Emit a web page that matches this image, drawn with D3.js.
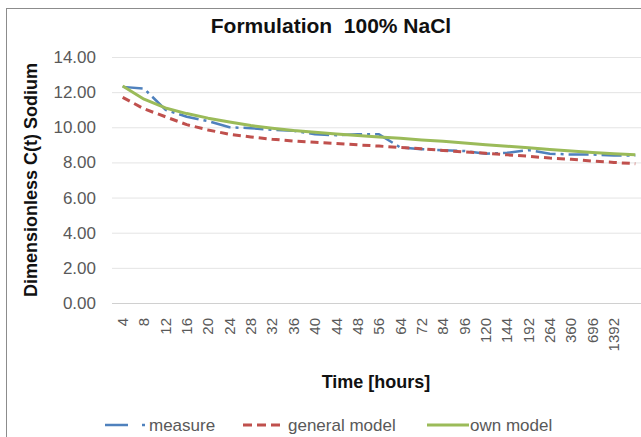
<!DOCTYPE html>
<html>
<head>
<meta charset="utf-8">
<script src="https://cdn.jsdelivr.net/npm/d3@7"></script>
<style>
  body { margin: 0; background: #fff; }
  svg { font-family: "Liberation Sans", Arial, sans-serif; }
</style>
</head>
<body>
<div id="chart"></div>
<script>
// category labels (last category has no label in the source)
const hours = ["4", "8", "12", "16", "20", "24", "28", "32", "36", "40", "44", "48",
  "56", "64", "72", "84", "96", "120", "144", "192", "264", "360", "696", "1392", ""];

const measure = [12.3, 12.2, 11.0, 10.6, 10.35, 10.0, 9.95, 9.85, 9.8, 9.6, 9.55, 9.6,
  9.6, 8.85, 8.75, 8.7, 8.65, 8.5, 8.55, 8.7, 8.5, 8.45, 8.45, 8.4, 8.4];

const generalModel = [11.7, 11.05, 10.6, 10.15, 9.85, 9.6, 9.45, 9.32, 9.22, 9.15, 9.08, 9.0,
  8.93, 8.85, 8.78, 8.68, 8.6, 8.52, 8.43, 8.35, 8.25, 8.18, 8.08, 8.0, 7.93];

const ownModel = [12.35, 11.6, 11.1, 10.78, 10.52, 10.3, 10.1, 9.95, 9.82, 9.72, 9.62, 9.53,
  9.45, 9.37, 9.28, 9.2, 9.1, 9.0, 8.92, 8.83, 8.74, 8.65, 8.57, 8.5, 8.44];

const yTicks = [0, 2, 4, 6, 8, 10, 12, 14];

const width = 641, height = 437;
const margin = { top: 57, right: -5, bottom: 134, left: 112 };

const svg = d3.select("#chart")
  .append("svg")
  .attr("width", width)
  .attr("height", height);

// outer frame
svg.append("rect")
  .attr("x", 6.5).attr("y", 8.5)
  .attr("width", 700).attr("height", 500)
  .attr("fill", "none")
  .attr("stroke", "#8c8c8c");

let xScale = d3.scaleBand()
  .domain(hours.map((d, i) => i))
  .range([margin.left, width - margin.right]);

let yScale = d3.scaleLinear()
  .domain([0, 14])
  .range([height - margin.bottom, margin.top]);

let cx = (i) => xScale(i) + xScale.bandwidth() / 2;

// gridlines
svg.append("g")
  .selectAll("line")
  .data(yTicks)
  .enter()
  .append("line")
    .attr("x1", margin.left)
    .attr("x2", width)
    .attr("y1", (d) => yScale(d) + 0.5)
    .attr("y2", (d) => yScale(d) + 0.5)
    .attr("stroke", (d) => d === 0 ? "#d0d0d0" : "#e4e4e4")
    .attr("stroke-width", 1);

// y tick labels
svg.append("g")
  .selectAll("text")
  .data(yTicks)
  .enter()
  .append("text")
    .attr("x", 96)
    .attr("y", (d) => yScale(d))
    .attr("dy", "0.35em")
    .attr("text-anchor", "end")
    .attr("font-size", "17px")
    .attr("fill", "#595959")
    .text((d) => d3.format(".2f")(d));

// x tick labels, rotated
svg.append("g")
  .selectAll("text")
  .data(hours)
  .enter()
  .append("text")
    .attr("transform", (d, i) => `translate(${cx(i)},318) rotate(-90)`)
    .attr("dy", "0.35em")
    .attr("text-anchor", "end")
    .attr("font-size", "15px")
    .attr("fill", "#595959")
    .text((d) => d);

// title and axis titles
svg.append("text")
  .attr("x", 331).attr("y", 33)
  .attr("text-anchor", "middle")
  .attr("font-size", "21px")
  .attr("font-weight", "bold")
  .attr("fill", "#111")
  .attr("xml:space", "preserve")
  .text("Formulation  100% NaCl");

svg.append("text")
  .attr("transform", "translate(31,180) rotate(-90)")
  .attr("dy", "0.35em")
  .attr("text-anchor", "middle")
  .attr("font-size", "18px")
  .attr("font-weight", "bold")
  .attr("fill", "#111")
  .text("Dimensionless C(t) Sodium");

svg.append("text")
  .attr("x", 376).attr("y", 382)
  .attr("dy", "0.35em")
  .attr("text-anchor", "middle")
  .attr("font-size", "18px")
  .attr("font-weight", "bold")
  .attr("fill", "#111")
  .text("Time [hours]");

// series
const series = [
  { name: "measure", values: measure, color: "#4f81bd", dash: "20,5,3,5", width: 2.5 },
  { name: "general model", values: generalModel, color: "#c0504d", dash: "8,5", width: 3 },
  { name: "own model", values: ownModel, color: "#9bbb59", dash: null, width: 3 }
];

let line = d3.line()
  .x((d, i) => cx(i))
  .y((d) => yScale(d));

svg.append("g")
  .selectAll("path")
  .data(series)
  .enter()
  .append("path")
    .attr("d", (s) => line(s.values))
    .attr("fill", "none")
    .attr("stroke", (s) => s.color)
    .attr("stroke-width", (s) => s.width)
    .attr("stroke-dasharray", (s) => s.dash)
    .attr("stroke-linejoin", "round");

// legend
const legendY = 425;
const legendX = [105, 243, 427];
const legend = svg.append("g");

series.forEach((s, k) => {
  let g = legend.append("g").attr("transform", `translate(${legendX[k]},${legendY})`);
  if (s.name === "measure") {
    g.append("line").attr("x1", 0).attr("x2", 23).attr("y1", 0).attr("y2", 0)
      .attr("stroke", s.color).attr("stroke-width", 2.5);
    g.append("line").attr("x1", 37).attr("x2", 40).attr("y1", 0).attr("y2", 0)
      .attr("stroke", s.color).attr("stroke-width", 2.5);
    g.append("text").attr("x", 44).attr("dy", "0.35em")
      .attr("font-size", "17px").attr("fill", "#595959").text(s.name);
  } else if (s.name === "general model") {
    g.append("line").attr("x1", 0).attr("x2", 37).attr("y1", 0).attr("y2", 0)
      .attr("stroke", s.color).attr("stroke-width", 3).attr("stroke-dasharray", "9,5");
    g.append("text").attr("x", 45).attr("dy", "0.35em")
      .attr("font-size", "17px").attr("fill", "#595959").text(s.name);
  } else {
    g.append("line").attr("x1", 0).attr("x2", 42).attr("y1", 0).attr("y2", 0)
      .attr("stroke", s.color).attr("stroke-width", 3);
    g.append("text").attr("x", 43).attr("dy", "0.35em")
      .attr("font-size", "17px").attr("fill", "#595959").text(s.name);
  }
});
</script>
</body>
</html>
